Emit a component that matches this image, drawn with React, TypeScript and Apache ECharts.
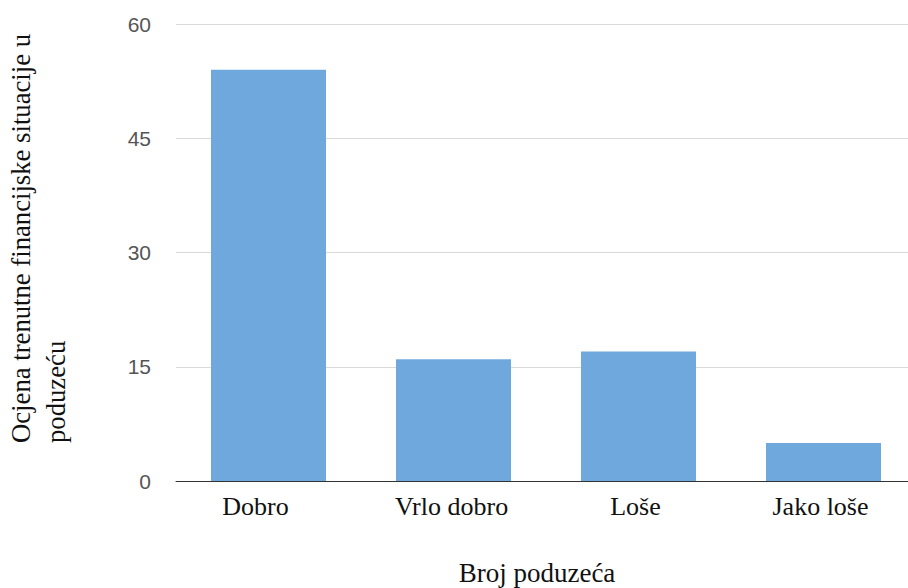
import React, { useEffect, useRef } from "react";
import * as echarts from "echarts";

const categories = ["Dobro", "Vrlo dobro", "Loše", "Jako loše"];
const values = [54, 16, 17, 5];
const yTicks = { min: 0, max: 60, interval: 15 };
const yTitleLines = ["Ocjena trenutne financijske situacije u", "poduzeću"];
const xTitle = "Broj poduzeća";

// horizontal nudge of each category label (px, right padding)
const labelShift = [26, 4, 6, 6];

export default function App() {
  const ref = useRef<HTMLDivElement>(null);
  useEffect(() => {
    document.documentElement.style.overflow = "hidden";
    document.body.style.overflow = "hidden";
    document.body.style.margin = "0";
    const chart = echarts.init(ref.current!, null, { renderer: "svg" });
    chart.setOption({
      animation: false,
      backgroundColor: "#ffffff",
      grid: { left: 176, right: 14, top: 24, bottom: 107, containLabel: false },
      xAxis: {
        type: "category",
        data: categories.map((c, i) => ({
          value: c,
          textStyle: { padding: [0, labelShift[i], 0, 0] },
        })),
        axisTick: { show: false },
        axisLine: { show: true, lineStyle: { color: "#333333", width: 1 } },
        axisLabel: {
          margin: 12,
          color: "#111111",
          fontFamily: "Liberation Serif",
          fontSize: 26,
        },
      },
      yAxis: {
        type: "value",
        min: yTicks.min,
        max: yTicks.max,
        interval: yTicks.interval,
        axisLine: { show: false },
        axisTick: { show: false },
        axisLabel: {
          margin: 25,
          color: "#555555",
          fontFamily: "Liberation Sans",
          fontSize: 21,
        },
        splitLine: { lineStyle: { color: "#d9d9d9", width: 1 } },
      },
      series: [
        {
          type: "bar",
          data: values,
          barWidth: 115,
          itemStyle: { color: "#6fa8dc" },
        },
      ],
      graphic: [
        {
          type: "text",
          x: 3,
          y: 443,
          rotation: Math.PI / 2,
          style: {
            text: yTitleLines.join("\n"),
            fontFamily: "Liberation Serif",
            fontSize: 26.7,
            lineHeight: 35,
            fill: "#111111",
            textAlign: "left",
            textVerticalAlign: "top",
          },
        },
        {
          type: "text",
          x: 537,
          y: 573,
          style: {
            text: xTitle,
            fontFamily: "Liberation Serif",
            fontSize: 27,
            fill: "#111111",
            textAlign: "center",
            textVerticalAlign: "middle",
          },
        },
      ],
    });
    return () => chart.dispose();
  }, []);
  return (
    <div
      ref={ref}
      style={{ position: "fixed", left: 0, top: 0, width: 930, height: 588 }}
    />
  );
}
